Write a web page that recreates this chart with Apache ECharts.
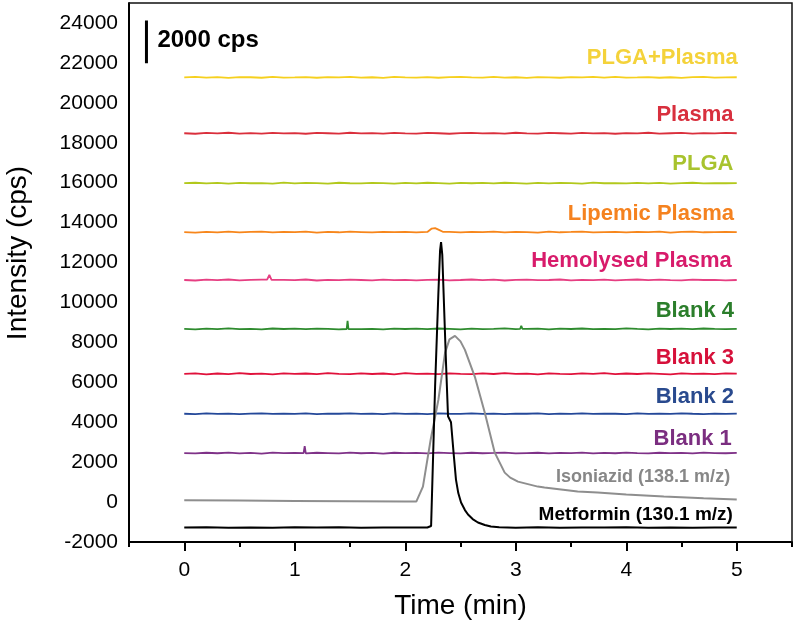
<!DOCTYPE html>
<html>
<head>
<meta charset="utf-8">
<script src="https://cdn.jsdelivr.net/npm/echarts@6/dist/echarts.min.js"></script>
<style>
html,body{margin:0;padding:0;background:#fff;}
#chart{width:800px;height:629px;}
</style>
</head>
<body>
<div id="chart"></div>
<script>
// ---------------- DATA ----------------
const times = [0,0.1,0.2,0.3,0.4,0.5,0.6,0.7,0.8,0.9,1.0,1.1,1.2,1.3,1.4,1.5,1.6,1.7,1.8,1.9,2.0,2.1,2.2,2.3,2.4,2.5,2.6,2.7,2.8,2.9,3.0,3.1,3.2,3.3,3.4,3.5,3.6,3.7,3.8,3.9,4.0,4.1,4.2,4.3,4.4,4.5,4.6,4.7,4.8,4.9,5.0];

const plgaPlasma = [21275,21295,21260,21285,21250,21290,21280,21255,21300,21265,21275,21290,21255,21285,21270,21300,21260,21280,21250,21295,21275,21265,21290,21255,21285,21300,21270,21260,21295,21265,21280,21250,21290,21275,21255,21285,21270,21295,21260,21300,21265,21275,21290,21255,21280,21250,21285,21295,21260,21275,21280];
const plasma = [18475,18450,18490,18465,18500,18460,18480,18455,18495,18470,18485,18450,18490,18475,18460,18500,18465,18480,18455,18495,18470,18460,18490,18475,18450,18485,18495,18465,18480,18455,18500,18470,18460,18490,18475,18455,18495,18465,18480,18450,18485,18470,18500,18460,18475,18490,18455,18480,18465,18495,18475];
const plga = [15975,15995,15960,15985,15950,15990,15970,15980,15955,16000,15965,15985,15975,15955,15995,15970,15960,15990,15980,15950,15985,15965,15995,15975,15955,15990,15970,15985,15960,15995,15975,15950,15985,15965,15990,15975,15955,16000,15970,15980,15960,15990,15965,15985,15955,15975,15995,15960,15980,15970,15975];
const lipemic = [13525,13500,13540,13515,13550,13505,13530,13545,13510,13535,13520,13550,13500,13530,13515,13545,13525,13505,13540,13520,13535,13510,13530,13650,13530,13505,13540,13520,13550,13510,13535,13525,13500,13545,13515,13530,13550,13505,13525,13540,13510,13535,13520,13550,13500,13530,13545,13515,13525,13540,13520];
const lipemicBump = [[2.24,13700],[2.27,13725],[2.34,13540]];
const hemolysed = [11125,11100,11140,11115,11150,11105,11130,11145,11110,11135,11120,11150,11100,11130,11115,11145,11125,11105,11140,11120,11135,11110,11130,11145,11105,11125,11150,11115,11140,11100,11130,11145,11115,11125,11150,11105,11135,11120,11145,11110,11130,11150,11115,11140,11120,11105,11145,11125,11135,11110,11125];
const hemolysedSpike = [[0.75,11140],[0.77,11375],[0.79,11130]];
const blank4 = [8675,8655,8690,8665,8700,8660,8680,8650,8695,8670,8685,8660,8690,8675,8655,8700,8665,8680,8650,8690,8670,8685,8660,8695,8675,8655,8690,8665,8680,8700,8660,8675,8690,8655,8685,8670,8695,8660,8680,8665,8700,8675,8655,8690,8670,8685,8660,8695,8675,8665,8680];
const blank4Spike = [[1.47,8670],[1.478,9075],[1.486,8670],[3.04,8680],[3.05,8830],[3.06,8680]];
const blank3 = [6425,6445,6400,6440,6410,6455,6415,6435,6400,6450,6420,6440,6405,6455,6425,6410,6450,6415,6440,6400,6455,6420,6435,6410,6450,6425,6405,6445,6415,6455,6420,6435,6400,6450,6425,6410,6445,6420,6455,6405,6440,6415,6450,6425,6400,6445,6420,6435,6410,6450,6430];
const blank2 = [4425,4410,4440,4420,4435,4405,4430,4445,4415,4430,4420,4440,4410,4435,4425,4445,4415,4430,4405,4440,4420,4435,4410,4445,4425,4415,4440,4420,4430,4405,4435,4425,4445,4410,4430,4420,4440,4415,4435,4425,4405,4440,4420,4430,4415,4445,4425,4410,4435,4420,4430];
const blank1 = [2455,2435,2470,2445,2480,2440,2460,2430,2475,2450,2465,2440,2470,2455,2435,2480,2445,2460,2430,2470,2450,2465,2440,2475,2455,2435,2470,2445,2460,2480,2440,2455,2470,2435,2465,2450,2475,2440,2460,2445,2480,2455,2435,2470,2450,2465,2440,2475,2455,2445,2460];
const blank1Spike = [[1.08,2450],[1.09,2805],[1.10,2455]];

const isoniazidT = [0,0.5,1.0,1.5,2.0,2.1,2.16,2.23,2.30,2.36,2.40,2.45,2.50,2.54,2.63,2.72,2.81,2.90,2.95,3.02,3.20,3.26,3.56,3.74,4.0,4.34,4.7,5.0];
const isoniazidV = [90,75,60,45,30,25,775,3125,5125,7475,8150,8325,8050,7625,6275,4475,2475,1475,1225,1025,775,725,525,475,380,275,190,125];

const metforminT = [0,0.2,0.4,0.6,0.8,1.0,1.2,1.4,1.6,1.8,2.0,2.1,2.2,2.234,2.27,2.30,2.315,2.324,2.335,2.35,2.37,2.387,2.414,2.44,2.459,2.48,2.505,2.54,2.568,2.61,2.658,2.72,2.775,2.85,3.0,3.2,3.4,3.6,3.8,4.0,4.2,4.4,4.6,4.8,5.0];
const metforminV = [-1275,-1265,-1285,-1270,-1280,-1260,-1278,-1265,-1282,-1270,-1278,-1268,-1275,-1200,5775,10500,12600,13025,12400,10000,6800,4300,4000,2300,1125,450,-25,-400,-625,-850,-1025,-1150,-1225,-1260,-1280,-1265,-1285,-1270,-1278,-1262,-1280,-1270,-1285,-1268,-1275];

const scaleBar = [21980, 24120];
const scaleText = '2000 cps';

const yTicks = [-2000,0,2000,4000,6000,8000,10000,12000,14000,16000,18000,20000,22000,24000];
const xTicks = [0,1,2,3,4,5];
const xMinorTicks = [-0.5,0.5,1.5,2.5,3.5,4.5,5.5];

const seriesNames = ['PLGA+Plasma','Plasma','PLGA','Lipemic Plasma','Hemolysed Plasma','Blank 4','Blank 3','Blank 2','Blank 1','Isoniazid (138.1 m/z)','Metformin (130.1 m/z)'];

// ---------------- BUILD ----------------
function pairs(vals, extra) {
  const n = Math.min(vals.length, times.length);
  const pts = [];
  for (let i = 0; i < n; i++) pts.push([times[i], vals[i]]);
  if (extra) extra.forEach(p => pts.push(p));
  pts.sort((a, b) => a[0] - b[0]);
  return pts;
}
function zip(ts, vs) { return ts.map((t, i) => [t, vs[i]]); }

const FONT = '"Liberation Sans", Arial, Helvetica, sans-serif';
const X_MIN = -0.5, X_MAX = 5.5, Y_MIN = -2000, Y_MAX = 25000;

const lineDefs = [
  { data: pairs(plgaPlasma), color: '#F6D01E', text: '#F4D23A', lx: 5.01, ly: 22225 },
  { data: pairs(plasma), color: '#DA2F3C', text: '#D8303E', lx: 4.97, ly: 19375 },
  { data: pairs(plga), color: '#B2C81C', text: '#A8C32E', lx: 4.97, ly: 16925 },
  { data: pairs(lipemic, lipemicBump), color: '#F7861B', text: '#F5821F', lx: 4.975, ly: 14425 },
  { data: pairs(hemolysed, hemolysedSpike), color: '#E63F82', text: '#D81B6B', lx: 4.955, ly: 12075 },
  { data: pairs(blank4, blank4Spike), color: '#2E8B2E', text: '#2B7E2B', lx: 4.975, ly: 9575 },
  { data: pairs(blank3), color: '#E0113B', text: '#D6103A', lx: 4.975, ly: 7225 },
  { data: pairs(blank2), color: '#244899', text: '#294A8E', lx: 4.975, ly: 5250 },
  { data: pairs(blank1, blank1Spike), color: '#7F3288', text: '#7B2E80', lx: 4.955, ly: 3175 },
  { data: zip(isoniazidT, isoniazidV), color: '#8E8E8E', text: '#878787', lx: 4.94, ly: 1275, fs: 18, width: 2 },
  { data: zip(metforminT, metforminV), color: '#000000', text: '#000000', lx: 4.965, ly: -625, fs: 19, width: 2 }
];

const series = lineDefs.map((d, i) => ({
  name: seriesNames[i],
  type: 'line',
  xAxisIndex: 0, yAxisIndex: 0,
  data: d.data,
  showSymbol: false,
  symbol: 'none',
  smooth: false,
  animation: false,
  silent: true,
  lineStyle: { color: d.color, width: d.width || 1.8 },
  z: 2 + i
}));

// scale bar
series.push({
  type: 'line', xAxisIndex: 0, yAxisIndex: 0,
  data: [[-0.342, scaleBar[0]], [-0.342, scaleBar[1]]],
  symbol: 'none', animation: false, silent: true,
  lineStyle: { color: '#000', width: 3 }, z: 20
});

// text labels as zero-size scatter points
const labelData = lineDefs.map((d, i) => ({
  value: [d.lx, d.ly],
  label: {
    show: true, formatter: seriesNames[i], color: d.text, opacity: 1,
    fontSize: d.fs || 22, fontWeight: 'bold', fontFamily: FONT,
    position: [0, 0], align: 'right', verticalAlign: 'middle'
  }
}));
labelData.push({
  value: [-0.243, 23125],
  label: {
    show: true, formatter: scaleText, color: '#000', opacity: 1,
    fontSize: 24, fontWeight: 'bold', fontFamily: FONT,
    position: [0, 0], align: 'left', verticalAlign: 'middle'
  }
});
series.push({
  type: 'scatter', xAxisIndex: 0, yAxisIndex: 0,
  data: labelData, symbolSize: 0, silent: true,
  itemStyle: { opacity: 1 },
  animation: false, z: 30, clip: false
});

const chart = echarts.init(document.getElementById('chart'), null, { renderer: 'canvas' });
chart.setOption({
  backgroundColor: '#ffffff',
  animation: false,
  grid: { left: 129, right: 8, top: 3, bottom: 87 },
  xAxis: [{
    type: 'value', min: X_MIN, max: X_MAX, position: 'bottom',
    name: 'Time (min)', nameLocation: 'middle', nameGap: 50,
    nameTextStyle: { fontSize: 28, color: '#000', fontFamily: FONT },
    axisLine: { show: true, onZero: false, lineStyle: { color: '#000', width: 2 } },
    axisTick: { show: true, customValues: xTicks, length: 9, inside: false, lineStyle: { color: '#000', width: 2 } },
    axisLabel: { customValues: xTicks, fontSize: 21, color: '#000', margin: 18, fontFamily: FONT },
    splitLine: { show: false }
  }, {
    type: 'value', min: X_MIN, max: X_MAX, position: 'bottom', gridIndex: 0,
    axisLine: { show: false, onZero: false },
    axisTick: { show: true, customValues: xMinorTicks, length: 5, lineStyle: { color: '#000', width: 2 } },
    axisLabel: { show: false },
    splitLine: { show: false }
  }],
  yAxis: [{
    type: 'value', min: Y_MIN, max: Y_MAX,
    axisLine: { show: true, onZero: false, lineStyle: { color: '#000', width: 2 } },
    axisTick: { show: false },
    axisLabel: { customValues: yTicks, fontSize: 21, color: '#000', margin: 11, fontFamily: FONT,
      formatter: v => String(v) },
    splitLine: { show: false }
  }],
  graphic: [{
    id: 'ytitle', type: 'text', x: 18, y: 253, rotation: Math.PI / 2,
    style: { text: 'Intensity (cps)', fill: '#000', font: '28px ' + FONT, textAlign: 'center', textVerticalAlign: 'middle', verticalAlign: 'middle' }
  }],
  series: series
});

// frame (top and right edges) from the axis extents
const tl = chart.convertToPixel({ xAxisIndex: 0, yAxisIndex: 0 }, [X_MIN, Y_MAX]);
const br = chart.convertToPixel({ xAxisIndex: 0, yAxisIndex: 0 }, [X_MAX, Y_MIN]);
chart.setOption({
  graphic: [{
    id: 'frame', type: 'polyline', z: 50, silent: true,
    shape: { points: [[tl[0], tl[1]], [br[0], tl[1]], [br[0], br[1]]] },
    style: { stroke: '#111', lineWidth: 1.5, fill: null }
  }]
});
</script>
</body>
</html>
